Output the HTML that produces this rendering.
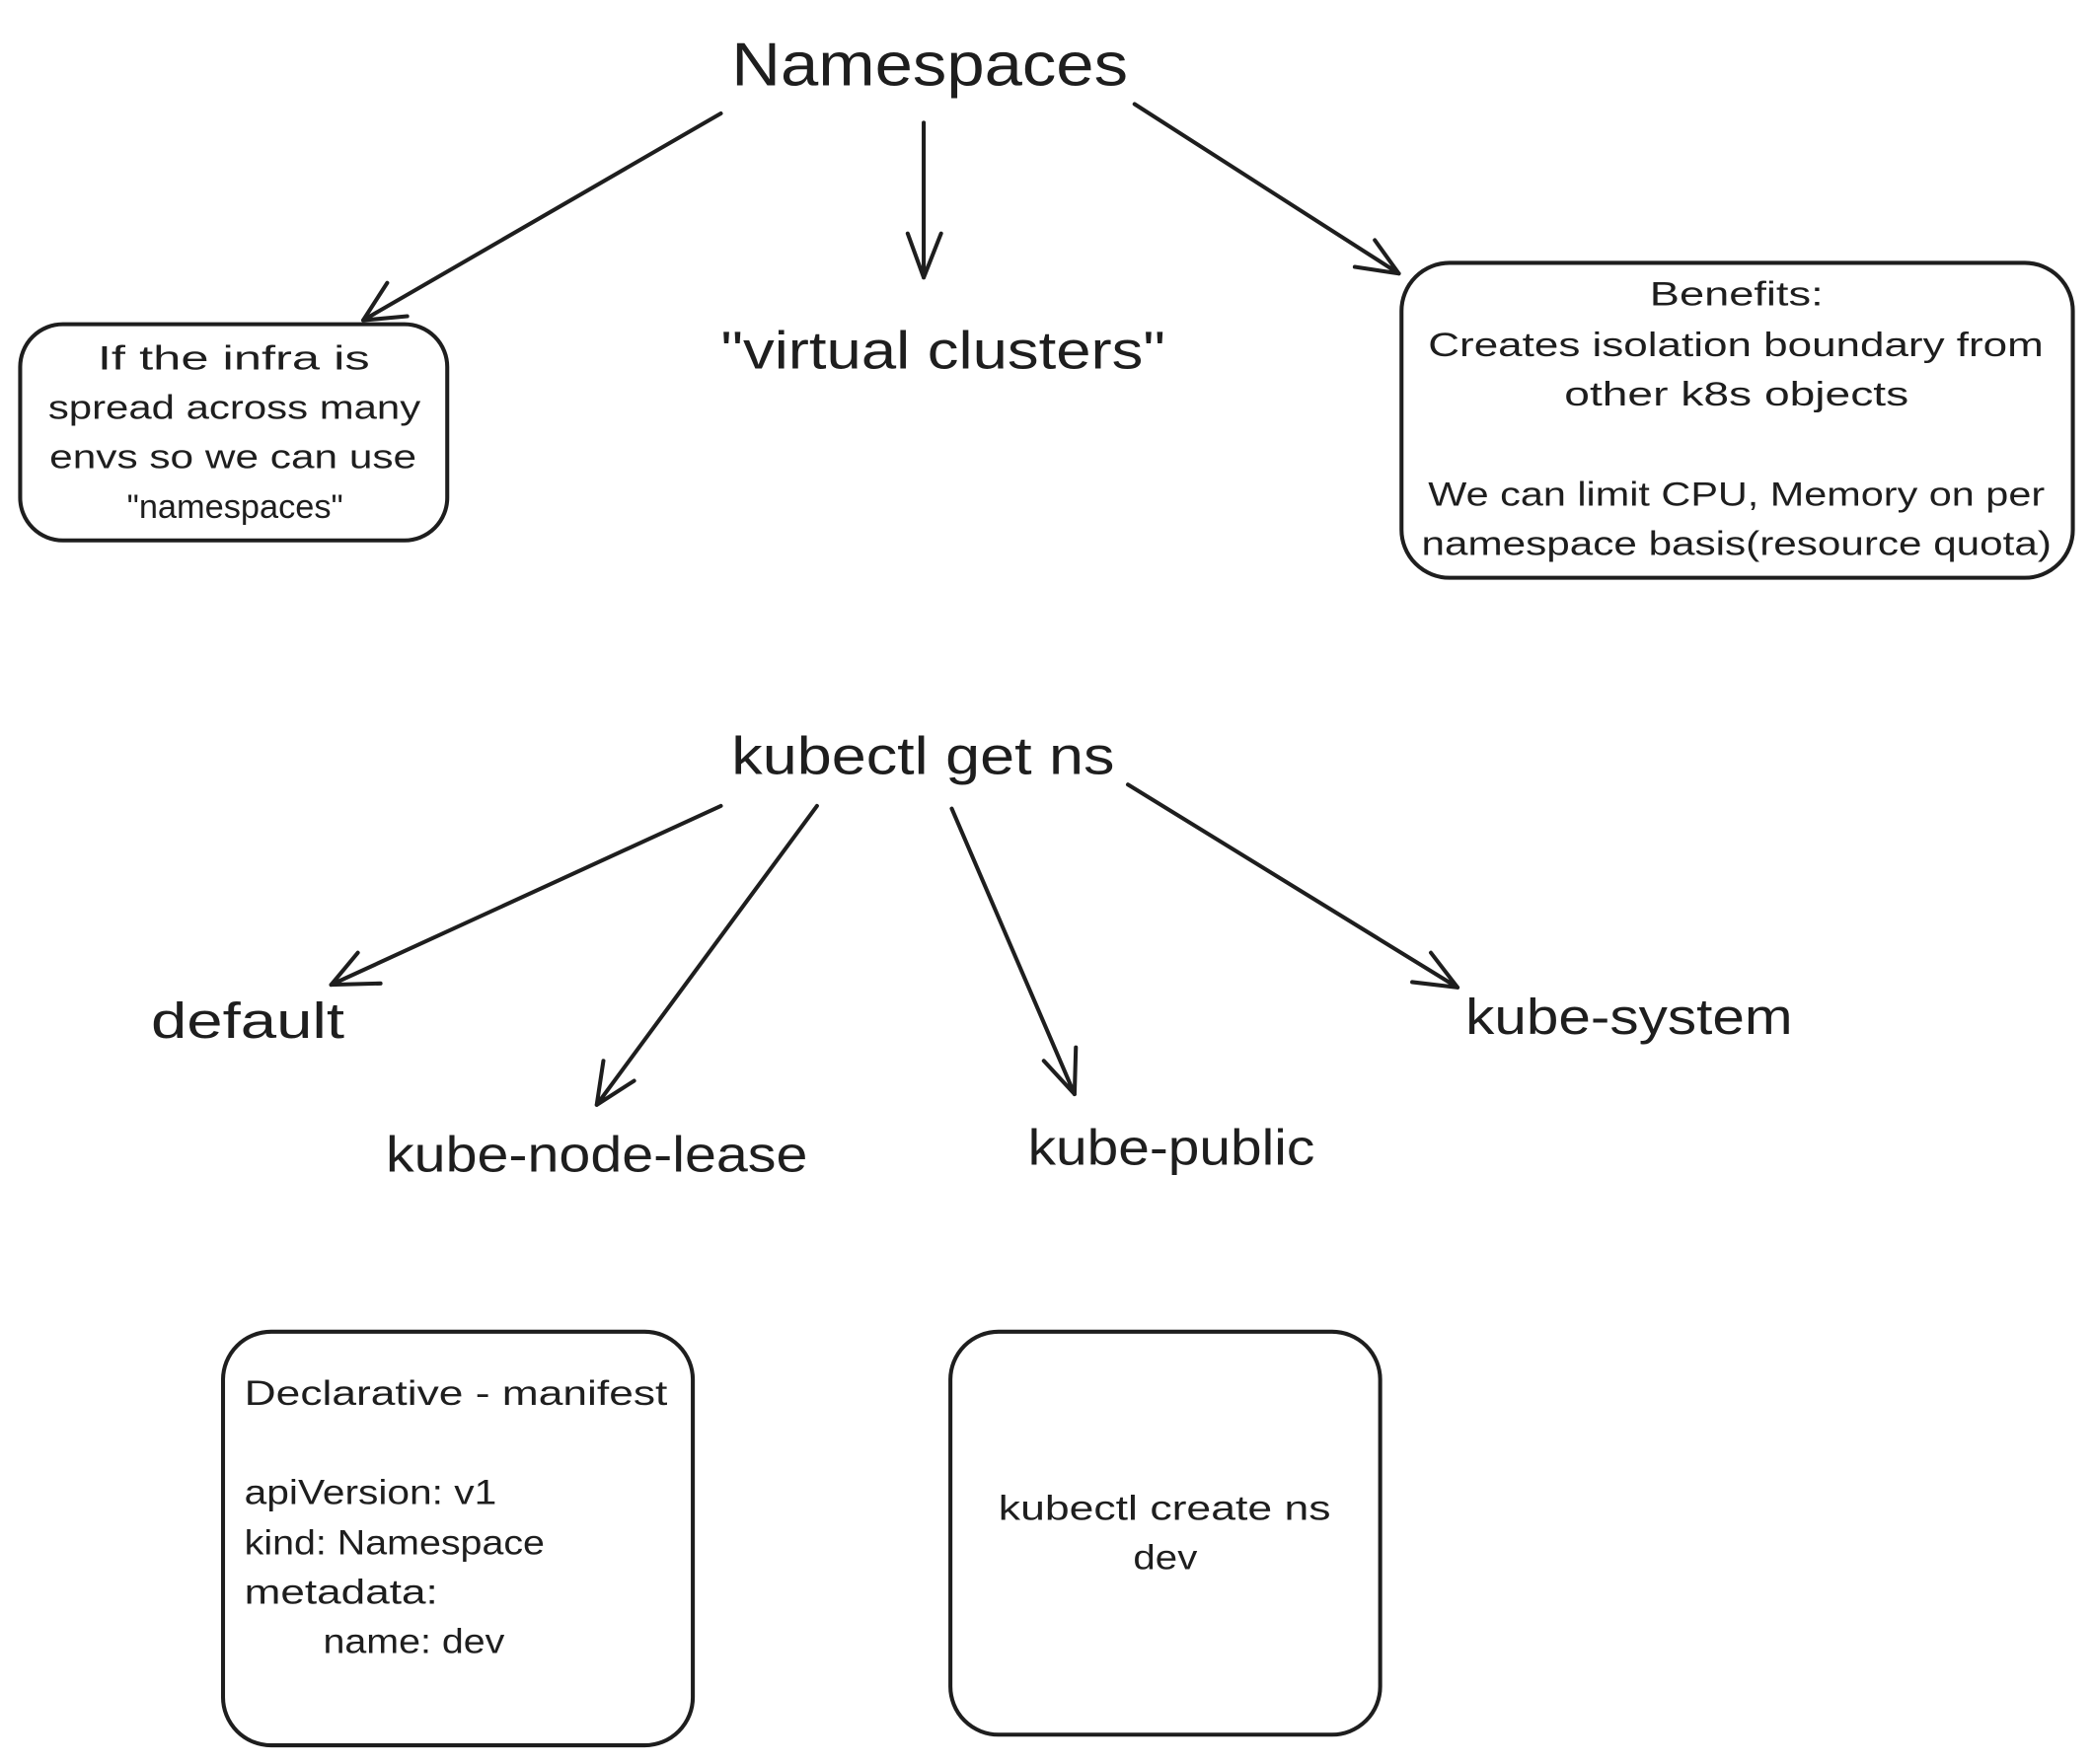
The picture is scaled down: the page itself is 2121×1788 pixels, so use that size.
<!DOCTYPE html>
<html><head><meta charset="utf-8"><style>
html,body{margin:0;padding:0;background:#fff}
svg{display:block}
text{font-family:"Liberation Sans",sans-serif;fill:#1e1e1e}
</style></head><body>
<svg width="2121" height="1788" viewBox="0 0 1568 1322" xmlns="http://www.w3.org/2000/svg">
<g stroke="#1e1e1e" stroke-width="3" fill="none" stroke-linecap="round" stroke-linejoin="round">
<path d="M540 85 L272 240 M272 240 L290 212 M272 240 L305 237"/>
<path d="M692 92 L692 208 M692 208 L680 175 M692 208 L705 175"/>
<path d="M850 78 L1048 205 M1048 205 L1030 180 M1048 205 L1015 200"/>
<rect x="15" y="243" width="320" height="162" rx="32"/>
<rect x="1050" y="197" width="503" height="236" rx="36"/>
<rect x="167" y="998" width="352" height="310" rx="36"/>
<rect x="712" y="998" width="322" height="302" rx="36"/>
<path d="M540 604 L248 738 M248 738 L268 714 M248 738 L285 737"/>
<path d="M612 604 L447 828 M447 828 L452 795 M447 828 L475 810"/>
<path d="M713 606 L805 820 M805 820 L782 795 M805 820 L806 785"/>
<path d="M845 588 L1092 740 M1092 740 L1072 714 M1092 740 L1058 736"/>
</g>
<g lengthAdjust="spacingAndGlyphs">
<text x="548" y="64" font-size="46" textLength="297" lengthAdjust="spacingAndGlyphs">Namespaces</text>
<text x="540" y="276" font-size="40" textLength="333" lengthAdjust="spacingAndGlyphs">"virtual clusters"</text>
<g font-size="25">
<text x="73" y="277" textLength="204" lengthAdjust="spacingAndGlyphs">If the infra is</text>
<text x="36" y="314" textLength="279" lengthAdjust="spacingAndGlyphs">spread across many</text>
<text x="37" y="351" textLength="275" lengthAdjust="spacingAndGlyphs">envs so we can use</text>
<text x="95" y="388" textLength="162" lengthAdjust="spacingAndGlyphs">"namespaces"</text>
<text x="1236" y="229" textLength="130" lengthAdjust="spacingAndGlyphs">Benefits:</text>
<text x="1070" y="267" textLength="461" lengthAdjust="spacingAndGlyphs">Creates isolation boundary from</text>
<text x="1172" y="304" textLength="258" lengthAdjust="spacingAndGlyphs">other k8s objects</text>
<text x="1070" y="379" textLength="462" lengthAdjust="spacingAndGlyphs">We can limit CPU, Memory on per</text>
<text x="1065" y="416" textLength="472" lengthAdjust="spacingAndGlyphs">namespace basis(resource quota)</text>
</g>
<text x="548" y="580" font-size="40" textLength="287" lengthAdjust="spacingAndGlyphs">kubectl get ns</text>
<text x="113" y="778" font-size="38" textLength="145" lengthAdjust="spacingAndGlyphs">default</text>
<text x="289" y="878" font-size="38" textLength="316" lengthAdjust="spacingAndGlyphs">kube-node-lease</text>
<text x="770" y="873" font-size="38" textLength="215" lengthAdjust="spacingAndGlyphs">kube-public</text>
<text x="1098" y="775" font-size="38" textLength="245" lengthAdjust="spacingAndGlyphs">kube-system</text>
<g font-size="26">
<text x="183" y="1053" textLength="317" lengthAdjust="spacingAndGlyphs">Declarative - manifest</text>
<text x="183" y="1127" textLength="189" lengthAdjust="spacingAndGlyphs">apiVersion: v1</text>
<text x="183" y="1165" textLength="225" lengthAdjust="spacingAndGlyphs">kind: Namespace</text>
<text x="183" y="1202" textLength="145" lengthAdjust="spacingAndGlyphs">metadata:</text>
<text x="242" y="1239" textLength="136" lengthAdjust="spacingAndGlyphs">name: dev</text>
<text x="748" y="1139" textLength="249" lengthAdjust="spacingAndGlyphs">kubectl create ns</text>
<text x="849" y="1176" textLength="48" lengthAdjust="spacingAndGlyphs">dev</text>
</g>
</g>
</svg>
</body></html>
